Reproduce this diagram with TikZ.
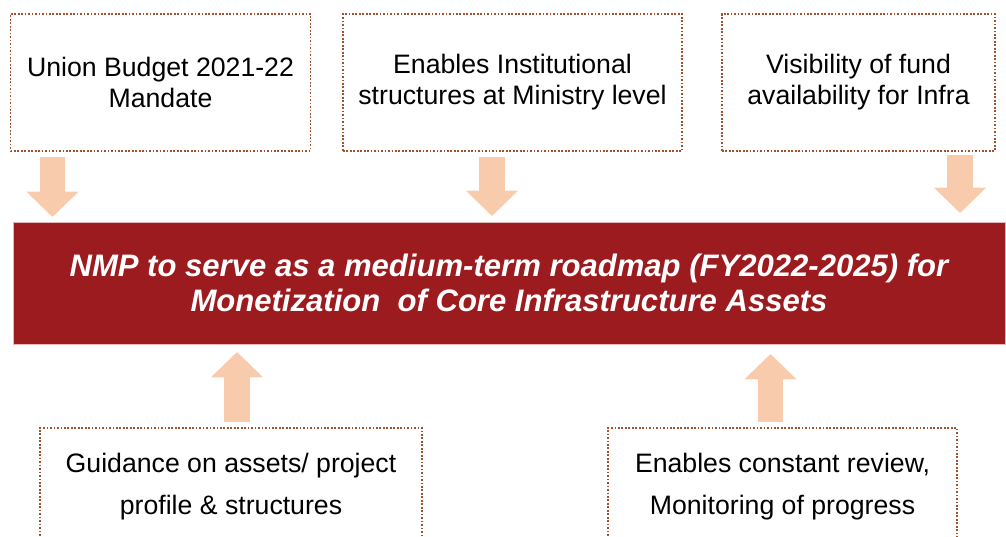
\documentclass[tikz,border=0pt]{standalone}
\usepackage{fontspec}
\setmainfont{Liberation Sans}
\usetikzlibrary{arrows.meta}
\definecolor{nmpred}{RGB}{155,27,31}
\definecolor{nmppeach}{RGB}{248,203,173}
\definecolor{nmpdots}{RGB}{160,82,45}
\definecolor{nmpedge}{RGB}{230,185,184}
\tikzset{
  infobox/.style={draw=nmpdots, line width=1.3pt, dash pattern=on 1.3pt off 1.3pt,
    inner sep=0pt, align=center, font=\fontsize{20}{23.3}\selectfont},
  lowbox/.style={infobox, font=\fontsize{20}{31.5}\selectfont},
  banner/.style={fill=nmpred, draw=nmpedge, line width=0.6pt, text=white, inner sep=0pt,
    align=center, font=\fontsize{23.3}{26.3}\selectfont\bfseries\itshape},
  feed/.style={draw=nmppeach, line width=19pt, -{Triangle[width=38pt,length=19pt]}},
}
\begin{document}
\begin{tikzpicture}[x=0.75pt, y=-0.75pt]
\useasboundingbox (0,0) rectangle (1006,536);
\clip (0,0) rectangle (1006,536);
% top row
\node[infobox, minimum width=225pt, minimum height=102.75pt] (budget) at (160.5,82.5) {Union Budget 2021-22\\Mandate};
\node[infobox, minimum width=254.25pt, minimum height=102.75pt] (ministry) at (512.5,82.5) {Enables Institutional\\structures at Ministry level};
\node[infobox, minimum width=204.75pt, minimum height=102.75pt] (funds) at (858.5,82.5) {Visibility of fund\\availability for Infra};
% roadmap banner
\node[banner, minimum width=744pt, minimum height=91.5pt] (nmp) at (509,283) {NMP to serve as a medium-term roadmap (FY2022-2025) for\\Monetization\ \ of Core Infrastructure Assets};
% bottom row (cut off by the page edge)
\node[lowbox, minimum width=286.5pt, minimum height=88.5pt] (guidance) at (231,487) {Guidance on assets/ project\\profile \& structures};
\node[lowbox, minimum width=261.75pt, minimum height=88.5pt] (review) at (782.5,487) {Enables constant review,\\Monitoring of progress};
% arrow ends
\coordinate (budgetout) at (52.5,157);
\coordinate (budgetin) at (52.5,217);
\coordinate (ministryout) at (492,157);
\coordinate (ministryin) at (492,216);
\coordinate (fundsout) at (960,155);
\coordinate (fundsin) at (960,213);
\coordinate (guidanceout) at (237,422);
\coordinate (guidancein) at (237,352);
\coordinate (reviewout) at (770.5,422);
\coordinate (reviewin) at (770.5,354);
\draw[feed] (budgetout) -- (budgetin);
\draw[feed] (ministryout) -- (ministryin);
\draw[feed] (fundsout) -- (fundsin);
\draw[feed] (guidanceout) -- (guidancein);
\draw[feed] (reviewout) -- (reviewin);
\end{tikzpicture}
\end{document}
